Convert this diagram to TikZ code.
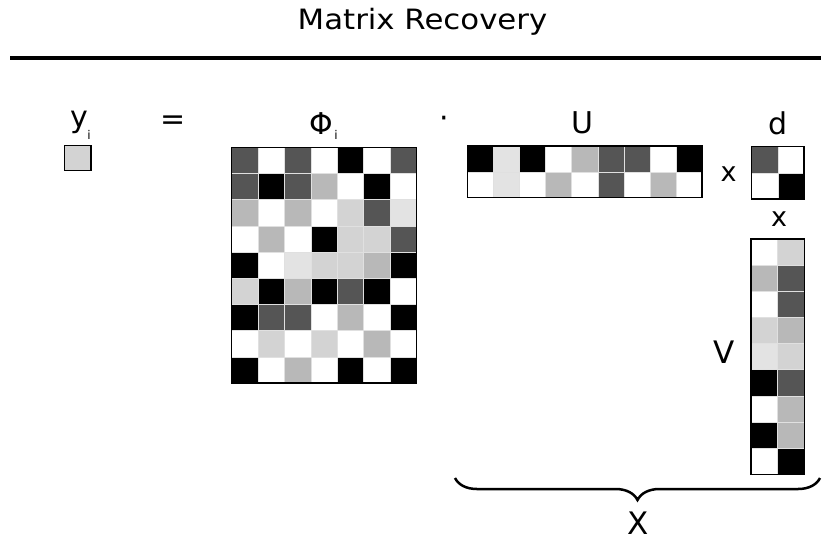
\documentclass[tikz,border=0pt]{standalone}
\usepackage{fontspec}
\setmainfont{DejaVu Sans}
\usetikzlibrary{decorations.pathreplacing}
\definecolor{cK}{gray}{0}
\definecolor{cD}{gray}{0.333}
\definecolor{cM}{gray}{0.722}
\definecolor{cL}{gray}{0.827}
\definecolor{cV}{gray}{0.89}
\definecolor{cW}{gray}{1}
\newcommand{\myfs}[1]{\fontsize{#1}{#1}\selectfont}
% x0, y0, cell width, cell height, rows
\newcommand{\drawgrid}[5]{%
  \foreach \rowlist [count=\r] in {#5} {
    \foreach \cc [count=\k] in \rowlist {
      \path[fill=c\cc, draw=black!12, line width=0.6] ({#1+(\k-1)*#3},{#2+(\r-1)*#4}) rectangle ++(#3,#4);
    }
  }%
}
\tikzset{
  lab/.style={inner sep=0pt, font=\myfs{30}},
  sub/.style={inner sep=0pt, font=\myfs{12}},
  frame/.style={draw=black, line width=1.5}
}
\begin{document}
\begin{tikzpicture}[x=1pt, y=-1pt]
\useasboundingbox (0,0) rectangle (829,539);
% title
\node[anchor=base, inner sep=0pt, font=\myfs{28}] (title) at (422.5,29.3) {\scalebox{1.1}[1]{Matrix Recovery}};
\draw[line width=3.3] (10,58) -- (821,58);
% labels
\node[lab] (ylab) at (79.5,122.4) {y};
\node[sub] (ysub) at (89,135.3) {i};
\node[lab] (eq) at (173.3,122.5) {=};
\node[lab] (philab) at (321.2,123.3) {Φ};
\node[sub] (phisub) at (336,134.7) {i};
\node[lab] (dot) at (444.3,122.3) {·};
\node[lab] (ulab) at (582.5,123.2) {U};
\node[lab] (dlab) at (778,123.7) {d};
\node[lab, font=\myfs{27}] (x1) at (728.7,173.8) {x};
\node[lab, font=\myfs{27}] (x2) at (779.2,218.7) {x};
\node[lab, font=\myfs{31}] (vlab) at (723.8,351.7) {V};
\node[lab, font=\myfs{31}] (xlab) at (637.8,522.8) {X};
% y box
\drawgrid{64.3}{145.7}{26.5}{25}{{L}}
\draw[frame] (64.3,145.7) rectangle ++(26.5,25);
% Phi
\drawgrid{231.7}{147.3}{26.4}{26.2}{{D,W,D,W,K,W,D},{D,K,D,M,W,K,W},{M,W,M,W,L,D,V},{W,M,W,K,L,L,D},{K,W,V,L,L,M,K},{L,K,M,K,D,K,W},{K,D,D,W,M,W,K},{W,L,W,L,W,M,W},{K,W,M,W,K,W,K}}
\draw[frame] (231.7,147.3) rectangle ++(184.8,235.8);
% U
\drawgrid{467.3}{146}{26.1}{25.85}{{K,V,K,W,M,D,D,W,K},{W,V,W,M,W,D,W,M,W}}
\draw[frame] (467.3,146) rectangle ++(234.9,51.7);
% d
\drawgrid{751.7}{146.7}{26.15}{26.15}{{D,W},{W,K}}
\draw[frame] (751.7,146.7) rectangle ++(52.3,52.3);
% V
\drawgrid{751}{239}{26.65}{26.15}{{W,L},{M,D},{W,D},{L,M},{V,L},{K,D},{W,M},{K,M},{W,K}}
\draw[frame] (751,239) rectangle ++(53.3,235.35);
% brace
\coordinate (bR) at (820,478);
\coordinate (bL) at (455,478);
\draw[line width=2.5, decorate, decoration={brace, amplitude=22pt}] (bR) -- (bL);
\end{tikzpicture}
\end{document}
